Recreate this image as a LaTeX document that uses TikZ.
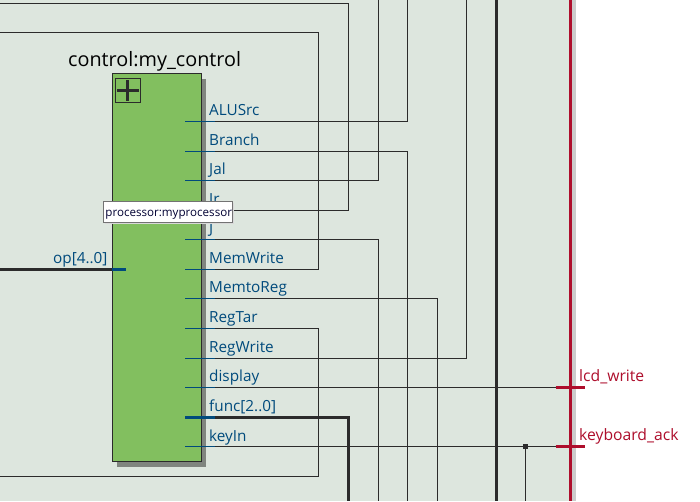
\documentclass[tikz,border=0pt]{standalone}
\usepackage{fontspec}
\setmainfont{Open Sans}
\definecolor{bgc}{HTML}{DDE6DE}
\definecolor{wirec}{HTML}{2B2B2B}
\definecolor{portc}{HTML}{004A7C}
\definecolor{redc}{HTML}{AE0E2C}
\definecolor{greenc}{HTML}{82BF5F}
\definecolor{shadowc}{HTML}{80857F}
\tikzset{x=1pt,y=-1pt,
 wire/.style={draw=wirec,line width=0.95pt},
 bus/.style={draw=wirec,line width=2.7pt},
 stub/.style={draw=portc,line width=0.95pt},
 plabel/.style={anchor=base west,inner sep=0pt,text=portc,font=\fontsize{15.3}{17}\selectfont},
 rlabel/.style={anchor=base west,inner sep=0pt,text=redc,font=\fontsize{15.7}{17}\selectfont}}
\begin{document}
\begin{tikzpicture}
\useasboundingbox (0,0) rectangle (700,501);
\fill[white] (0,0) rectangle (700,501);
\fill[bgc] (0,0) rectangle (571,501);
\fill[black!20] (571.5,0) rectangle (576,501);
% shadow and block
\fill[shadowc] (116.8,79) rectangle (206,466.7);
\node[draw=wirec,fill=greenc,line width=0.95pt,minimum width=88.7pt,minimum height=388pt,inner sep=0pt,anchor=north west] (blk) at (111.8,73.3) {};
\node[draw=wirec,line width=0.8pt,minimum width=24.2pt,minimum height=24.2pt,inner sep=0pt,anchor=north west] (plus) at (115.4,78.2) {};
\draw[wirec,line width=3pt] (plus.center)+(-10.8,0) -- +(10.8,0) (plus.center)+(0,-10.5) -- +(0,10.5);
\node[anchor=base west,inner sep=0pt,font=\fontsize{19.8}{23}\selectfont,text=black] (title) at (68,66) {control:my\_control};
% named anchors
\foreach \n/\y in {alu/121.5,bra/151,jal/180.5,jr/210.5,j/239.5,mw/269.5,mtr/298.5,rt/328.5,rw/358.5,dis/387.5,fun/417.5,key/446.5}{
 \coordinate (\n) at (185,\y);
 \coordinate (\n e) at (215,\y);
}
\coordinate (op) at (126,269.5);
\coordinate (opm) at (112,269.5);
\coordinate (opl) at (0,269.5);
% wires
\draw[wire] (alue) -| (407.5,0);
\draw[wire] (brae) -| (407.5,501);
\draw[wire] (jale) -| (378.5,0);
\draw[wire] (jre) -| (348,3.5) -- (0,3.5);
\draw[wire] (je) -| (378.5,501);
\draw[wire] (mwe) -| (318,32.5) -- (0,32.5);
\draw[wire] (mtre) -| (437,501);
\draw[wire] (rte) -| (318,476.5) -- (0,476.5);
\draw[wire] (rwe) -| (466.5,0);
\draw[wire] (dise) -- (556,387.5);
\draw[wire] (keye) -- (556,446.5);
\draw[wire] (525.5,446.5) -- (525.5,501);
\fill[wirec] (523,444) rectangle (528,449);
\draw[bus] (fune) -| (348.5,501);
\draw[bus] (496.5,0) -- (496.5,501);
\draw[bus] (opl) -- (opm);
\draw[portc,line width=2.7pt] (opm) -- (op);
% stubs
\foreach \n in {alu,bra,jal,jr,j,mw,mtr,rt,rw,dis,key}{ \draw[stub] (\n) -- (\n e); }
\draw[portc,line width=2.7pt] (fun) -- (fune);
% red border
\draw[redc,line width=3pt] (570.5,0) -- (570.5,501);
\draw[redc,line width=2.4pt] (555.5,387.5) -- (584.5,387.5);
\draw[redc,line width=2.4pt] (555.5,446.5) -- (584.5,446.5);
% labels
\foreach \t/\y in {ALUSrc/115,Branch/145,Jal/174.5,Jr/204,J/233,MemWrite/263,MemtoReg/292.5,RegTar/322,RegWrite/352,display/381,func[2..0]/411,keyIn/441}{
 \node[plabel] at (209,\y) {\t};
}
\node[plabel] at (53,263) {op[4..0]};
\node[rlabel] at (579,381) {lcd\_write};
\node[rlabel] at (579,440) {keyboard\_ack};
% tooltip
\fill[black!15] (104.5,202.5) rectangle (234,224);
\node[draw=black!55,fill=white,line width=0.9pt,minimum width=129.4pt,minimum height=21pt,inner sep=0pt,anchor=north west] (tip) at (102.8,200.8) {};
\node[anchor=base west,inner sep=0pt,font=\fontsize{11.6}{13}\selectfont,text=black!80!blue] (tiptext) at (105.2,216.6) {processor:myprocessor};
\end{tikzpicture}
\end{document}
